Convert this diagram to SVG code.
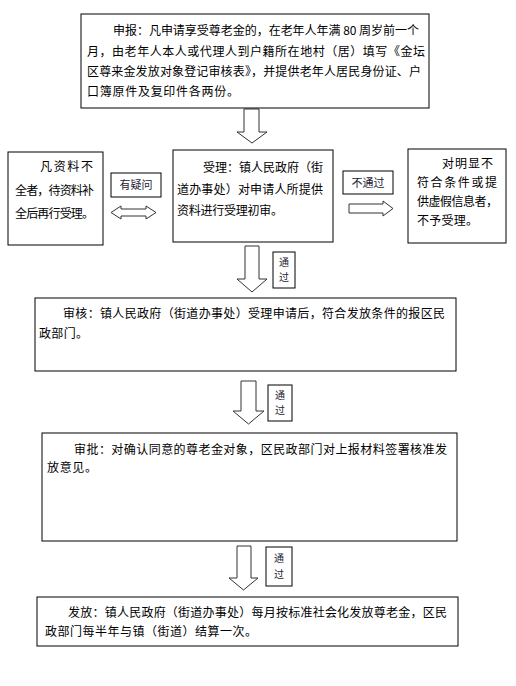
<svg xmlns="http://www.w3.org/2000/svg" width="516" height="686" viewBox="0 0 516 686">
<style>
.box{fill:#fff;stroke:#000;stroke-width:1}
.lbl{fill:#fff;stroke:#000;stroke-width:1}
.t{font-family:"Noto Sans CJK SC","Noto Sans CJK JP",sans-serif;font-size:12px;fill:#000}
.s{font-family:"Noto Sans CJK SC","Noto Sans CJK JP",sans-serif;font-size:11px;fill:#223;text-anchor:middle}
.v{font-family:"Noto Sans CJK SC","Noto Sans CJK JP",sans-serif;font-size:10px;fill:#223;text-anchor:middle}
.arr{fill:#fff;stroke:#333;stroke-width:1;stroke-linejoin:miter}
</style>
<rect width="516" height="686" fill="#fff"/>
<g id="connectors">
<polygon class="arr" points="244,109 259,109 259,132 267,132 252,143 237,132 244,132"/>
<polygon class="arr" points="245,246 259,246 259,279 267,279 252,292 237,279 245,279"/>
<polygon class="arr" points="241,381 256,381 256,411 264,411 248.5,424 233,411 241,411"/>
<polygon class="arr" points="237,546 251,546 251,578 258,578 243.5,590 229,578 237,578"/>
<polygon class="arr" points="111,212.5 121,206 121,209 146,209 146,206 156,212.5 146,219 146,216 121,216 121,219"/>
<polygon class="arr" points="349,204 383,204 383,201 393,208.5 383,216 383,213 349,213"/>
</g>
<g id="n-apply">
<rect class="box" x="81" y="14" width="348" height="94"/>
<text class="t" x="113" y="35" textLength="306" lengthAdjust="spacing">申报：凡申请享受尊老金的，在老年人年满 80 周岁前一个</text>
<text class="t" x="87" y="55.5" textLength="338" lengthAdjust="spacing">月，由老年人本人或代理人到户籍所在地村（居）填写《金坛</text>
<text class="t" x="87" y="76" textLength="334" lengthAdjust="spacing">区尊来金发放对象登记审核表》，并提供老年人居民身份证、户</text>
<text class="t" x="87" y="96" textLength="152" lengthAdjust="spacing">口簿原件及复印件各两份。</text>
</g>
<g id="n-incomplete">
<rect class="box" x="8" y="152" width="95" height="93"/>
<text class="t" x="40" y="171" textLength="53" lengthAdjust="spacing">凡资料不</text>
<text class="t" x="15" y="194.5" textLength="79" lengthAdjust="spacing">全者，待资料补</text>
<text class="t" x="15" y="218" textLength="79" lengthAdjust="spacing">全后再行受理。</text>
</g>
<g id="l-doubt">
<rect class="lbl" x="111" y="173" width="50" height="24"/>
<text class="s" x="136" y="189">有疑问</text>
</g>
<g id="n-accept">
<rect class="box" x="173" y="150" width="160" height="92"/>
<text class="t" x="203" y="171.5" textLength="120" lengthAdjust="spacing">受理：镇人民政府（街</text>
<text class="t" x="177" y="193.5" textLength="146" lengthAdjust="spacing">道办事处）对申请人所提供</text>
<text class="t" x="177" y="214.5" textLength="106" lengthAdjust="spacing">资料进行受理初审。</text>
</g>
<g id="l-reject">
<rect class="lbl" x="343" y="171" width="50" height="23"/>
<text class="s" x="368" y="186.5">不通过</text>
</g>
<g id="n-reject">
<rect class="box" x="408" y="149" width="98" height="94"/>
<text class="t" x="442" y="167.5" textLength="51" lengthAdjust="spacing">对明显不</text>
<text class="t" x="417" y="186.5" textLength="80" lengthAdjust="spacing">符合条件或提</text>
<text class="t" x="417" y="205.5" textLength="81" lengthAdjust="spacing">供虚假信息者，</text>
<text class="t" x="417" y="224.5" textLength="61" lengthAdjust="spacing">不予受理。</text>
</g>
<g id="l-pass1">
<rect class="lbl" x="273" y="252" width="22" height="36"/>
<text class="v" x="284" y="266">通</text>
<text class="v" x="284" y="281">过</text>
</g>
<g id="n-review">
<rect class="box" x="35" y="298" width="421" height="73"/>
<text class="t" x="63" y="317.5" textLength="382" lengthAdjust="spacing">审核：镇人民政府（街道办事处）受理申请后，符合发放条件的报区民</text>
<text class="t" x="39" y="337.5" textLength="49" lengthAdjust="spacing">政部门。</text>
</g>
<g id="l-pass2">
<rect class="lbl" x="268" y="385" width="24" height="36"/>
<text class="v" x="280" y="399">通</text>
<text class="v" x="280" y="414">过</text>
</g>
<g id="n-approve">
<rect class="box" x="42" y="433" width="415" height="108"/>
<text class="t" x="74" y="453.5" textLength="373" lengthAdjust="spacing">审批：对确认同意的尊老金对象，区民政部门对上报材料签署核准发</text>
<text class="t" x="47" y="471.5" textLength="50" lengthAdjust="spacing">放意见。</text>
</g>
<g id="l-pass3">
<rect class="lbl" x="266" y="547" width="26" height="39"/>
<text class="v" x="279" y="562">通</text>
<text class="v" x="279" y="578">过</text>
</g>
<g id="n-pay">
<rect class="box" x="37" y="597" width="421" height="49"/>
<text class="t" x="68" y="616.5" textLength="379" lengthAdjust="spacing">发放：镇人民政府（街道办事处）每月按标准社会化发放尊老金，区民</text>
<text class="t" x="45" y="636" textLength="212" lengthAdjust="spacing">政部门每半年与镇（街道）结算一次。</text>
</g>
</svg>
